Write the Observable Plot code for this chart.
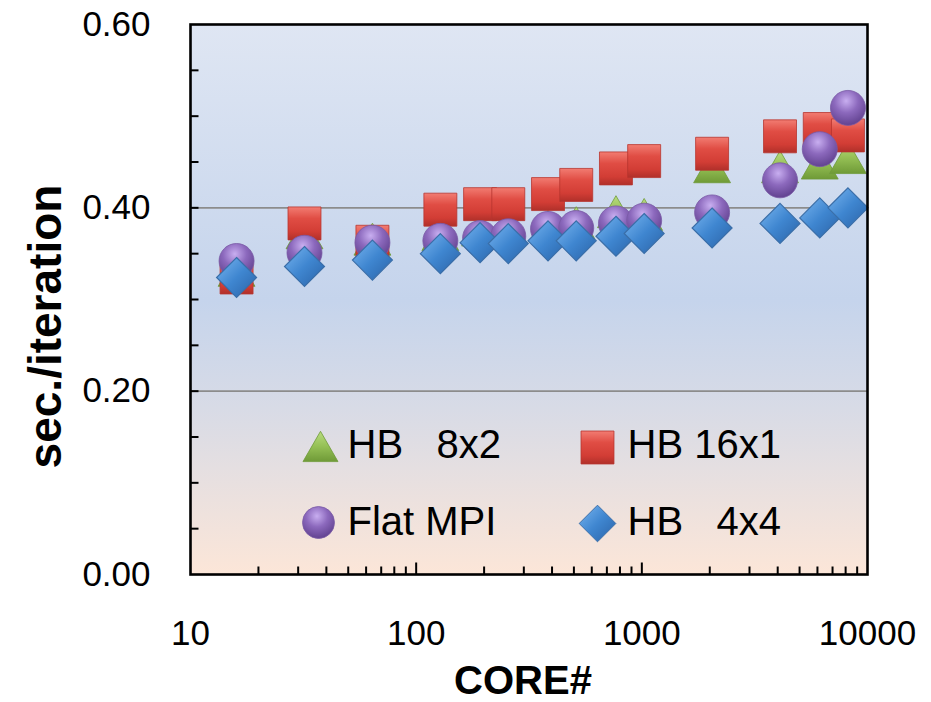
<!DOCTYPE html>
<html><head><meta charset="utf-8">
<script src="https://cdn.jsdelivr.net/npm/d3@7"></script>
<script src="https://cdn.jsdelivr.net/npm/@observablehq/plot@0.6"></script>
<style>body{margin:0;background:#fff} svg text{white-space:pre}</style>
</head><body><div id="chart"></div>
<script>
// ---- data ----
const cores   = [16, 32, 64, 128, 192, 256, 384, 512, 768, 1024, 2048, 4096, 6144, 8192];
const hb8x2   = [0.326, 0.367, 0.360, 0.365, 0.370, 0.372, 0.374, 0.378, 0.390, 0.387, 0.439, 0.439, 0.443, 0.449];
const hb16x1  = [0.324, 0.383, 0.363, 0.398, 0.404, 0.404, 0.415, 0.425, 0.443, 0.451, 0.459, 0.478, 0.486, 0.479];
const flatMPI = [0.342, 0.351, 0.362, 0.364, 0.367, 0.369, 0.377, 0.378, 0.383, 0.386, 0.395, 0.430, 0.464, 0.509];
const hb4x4   = [0.324, 0.336, 0.343, 0.350, 0.362, 0.361, 0.364, 0.364, 0.369, 0.372, 0.378, 0.383, 0.389, 0.400];
const seriesNames = ["HB   8x2", "HB 16x1", "Flat MPI", "HB   4x4"];
const yTickLabels = [0, 0.2, 0.4, 0.6];
const yMinorTicks = [0.05, 0.1, 0.15, 0.2, 0.25, 0.3, 0.35, 0.4, 0.45, 0.5, 0.55];
const yGrid = [0.2, 0.4];
const xTickLabels = [10, 100, 1000, 10000];
const xMajorTicks = [100, 1000];
const xMinorTicks = [20, 30, 40, 50, 60, 70, 80, 90, 200, 300, 400, 500, 600, 700, 800, 900, 2000, 3000, 4000, 5000, 6000, 7000, 8000, 9000];
const xTitle = "CORE#";
const yTitle = "sec./iteration";

// ---- tick symbols (drawn inward) ----
const tickUpMinor = {draw(ctx) { ctx.moveTo(0, 0); ctx.lineTo(0, -8); }};
const tickUpMajor = {draw(ctx) { ctx.moveTo(0, 0); ctx.lineTo(0, -12); }};
const tickRight   = {draw(ctx) { ctx.moveTo(0, 0); ctx.lineTo(8, 0); }};

const FONT = "'Liberation Sans', Arial, sans-serif";
const ser = (arr) => ({x: (d) => d, y: (d, i) => arr[i]});
const legendText = (name, dx, dy) => Plot.text([name], {text: (d) => d, frameAnchor: "top-left", dx, dy, textAnchor: "start", lineAnchor: "middle", fontSize: 40, fill: "black"});

const svg = Plot.plot({
  width: 931,
  height: 702,
  marginLeft: 190,
  marginRight: 64,
  marginTop: 24,
  marginBottom: 128,
  style: {fontFamily: FONT, fontSize: "35px", background: "white", color: "black", overflow: "visible"},
  x: {type: "log", domain: [10, 10000], ticks: xTickLabels, tickFormat: (d) => String(d), tickSize: 0, tickPadding: 46, label: null},
  y: {domain: [0, 0.6], ticks: yTickLabels, tickFormat: d3.format(".2f"), tickSize: 0, tickPadding: 40, label: null},
  marks: [
    Plot.frame({fill: "url(#bgGrad)", stroke: "none"}),
    Plot.ruleY(yGrid, {stroke: "#8c8c8c", strokeWidth: 1.6}),
    // data
    Plot.dot(cores, {...ser(hb8x2), symbol: "triangle", r: 13.7, fill: "url(#gTr)", stroke: "#6f9a3a", strokeWidth: 0.8}),
    Plot.dot(cores, {...ser(hb16x1), symbol: "square", r: 18.6, fill: "url(#gSq)", stroke: "#b8352e", strokeWidth: 0.8}),
    Plot.dot(cores, {...ser(flatMPI), symbol: "circle", r: 17.5, fill: "url(#gCi)", stroke: "#7a5aa6", strokeWidth: 0.8}),
    Plot.dot(cores, {...ser(hb4x4), symbol: "diamond2", r: 18, fill: "url(#gDi)", stroke: "#3a6ea8", strokeWidth: 1.2}),
    // legend
    Plot.dot([seriesNames[0]], {frameAnchor: "top-left", dx: 130, dy: 427, symbol: "triangle", r: 13, fill: "url(#gTr)", stroke: "#6f9a3a", strokeWidth: 0.8}),
    Plot.dot([seriesNames[1]], {frameAnchor: "top-left", dx: 407, dy: 423, symbol: "square", r: 18.6, fill: "url(#gSq)", stroke: "#b8352e", strokeWidth: 0.8}),
    Plot.dot([seriesNames[2]], {frameAnchor: "top-left", dx: 128, dy: 498, symbol: "circle", r: 16, fill: "url(#gCi)", stroke: "#7a5aa6", strokeWidth: 0.8}),
    Plot.dot([seriesNames[3]], {frameAnchor: "top-left", dx: 407, dy: 499, symbol: "diamond2", r: 16.5, fill: "url(#gDi)", stroke: "#3a6ea8", strokeWidth: 1}),
    legendText(seriesNames[0], 157, 421),
    legendText(seriesNames[1], 437, 421),
    legendText(seriesNames[2], 157, 498),
    legendText(seriesNames[3], 437, 498),
    // inward ticks
    Plot.dot(xMinorTicks, {x: (d) => d, frameAnchor: "bottom", symbol: tickUpMinor, fill: "none", stroke: "black", strokeWidth: 2}),
    Plot.dot(xMajorTicks, {x: (d) => d, frameAnchor: "bottom", symbol: tickUpMajor, fill: "none", stroke: "black", strokeWidth: 2}),
    Plot.dot(yMinorTicks, {y: (d) => d, frameAnchor: "left", symbol: tickRight, fill: "none", stroke: "black", strokeWidth: 2}),
    Plot.frame({stroke: "black", strokeWidth: 2.6}),
    // axis titles
    Plot.text([yTitle], {text: (d) => d, frameAnchor: "left", dx: -144, dy: 27, rotate: -90, textAnchor: "middle", lineAnchor: "middle", fontSize: 46, fontWeight: "bold", fill: "black"}),
    Plot.text([xTitle], {text: (d) => d, frameAnchor: "bottom", dx: -6, dy: 107, textAnchor: "middle", lineAnchor: "middle", fontSize: 40, fontWeight: "bold", fill: "black"})
  ]
});

// gradient definitions
const defs = d3.select(svg).insert("defs", ":first-child");
function lin(id, stops, x1 = 0, y1 = 0, x2 = 0, y2 = 1) {
  const g = defs.append("linearGradient").attr("id", id)
    .attr("x1", x1).attr("y1", y1).attr("x2", x2).attr("y2", y2);
  stops.forEach(([o, c]) => g.append("stop").attr("offset", o).attr("stop-color", c));
}
lin("bgGrad", [[0, "#dfe6f3"], [0.5, "#c5d4ec"], [0.7, "#d8dbe6"], [1, "#fce6d8"]]);
lin("gSq", [[0, "#f27c72"], [0.35, "#e04d44"], [0.75, "#d23d35"], [1, "#b0302a"]]);
lin("gTr", [[0, "#b9dc80"], [0.5, "#95c055"], [1, "#6f9a37"]]);
lin("gDi", [[0, "#7ab6f0"], [0.5, "#3f86d0"], [1, "#2a62a6"]], 0, 0, 1, 1);
const rg = defs.append("radialGradient").attr("id", "gCi").attr("cx", 0.45).attr("cy", 0.3).attr("r", 0.75);
[[0, "#c8aef0"], [0.45, "#8c69bd"], [1, "#5c3d8a"]].forEach(([o, c]) => rg.append("stop").attr("offset", o).attr("stop-color", c));

document.getElementById("chart").appendChild(svg);
</script>
</body></html>
